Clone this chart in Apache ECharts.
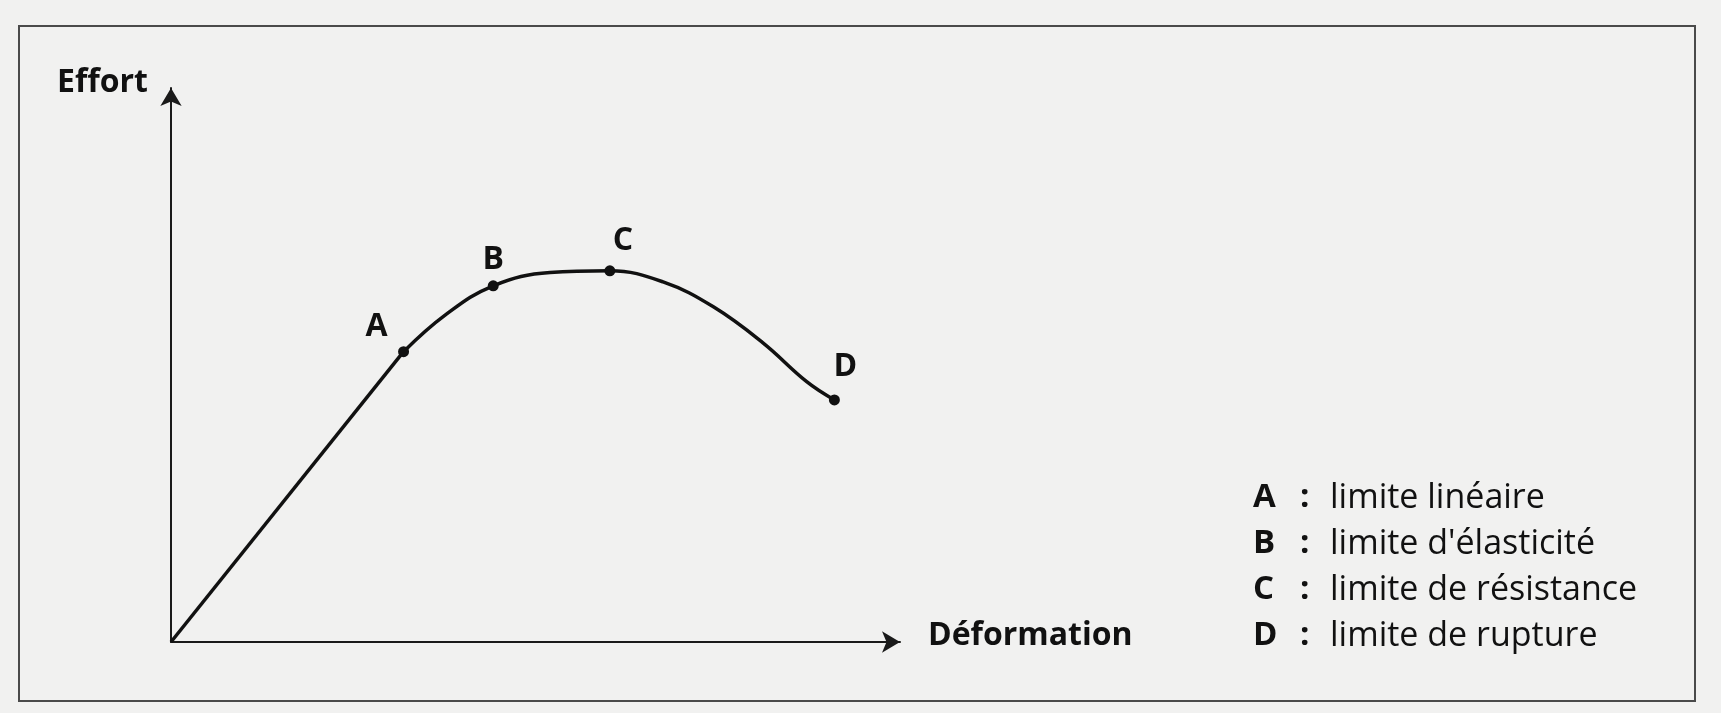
<!DOCTYPE html>
<html>
<head>
<meta charset="utf-8">
<script src="https://cdn.jsdelivr.net/npm/echarts@6/dist/echarts.min.js"></script>
<style>
    html, body { margin: 0; padding: 0; background: #f1f1f0; }
    #courbe { width: 1721px; height: 713px; }
</style>
</head>
<body>
<div id="courbe"></div>
<script>
    // partie linéaire : origine -> A
    const lineaire = [[0, 0], [31.9, 52.4]]
    // partie courbe : A -> B -> C -> D
    const courbe = [
        [31.9, 52.4], [37.6, 59.0], [44.2, 64.3], [52.0, 66.7],
        [60.2, 67.0], [67.5, 65.0], [74.4, 60.5], [81.2, 54.0],
        [87.2, 47.0], [91.0, 43.7]
    ]
    // points remarquables
    const pointNoms = ['A', 'B', 'C', 'D']
    const points = [[31.9, 52.4], [44.2, 64.3], [60.2, 67.0], [91.0, 43.7]]
    // légende
    const legendeLettres = ['A', 'B', 'C', 'D']
    const legendeTextes = ['limite linéaire', "limite d'élasticité", 'limite de résistance', 'limite de rupture']

    // décalage des lettres par rapport au point
    const decalages = { A: [-27, 3], B: [0, 2], C: [13, -2], D: [11, -6] }

    const chart = echarts.init(document.getElementById('courbe'))

    const legende = legendeLettres.map(function (l, i) {
        return '{k|' + l + '}{c|:}{t|' + legendeTextes[i] + '}'
    }).join('\n')

    const option = {
        backgroundColor: '#f1f1f0',
        animation: false,
        grid: {
            left: 171,
            right: 821,
            top: 88,
            bottom: 71
        },
        title: {
            left: 1248,
            top: 470,
            text: legende,
            textStyle: {
                lineHeight: 46,
                rich: {
                    k: { fontFamily: 'Open Sans', fontWeight: 'bold', fontSize: 33, color: '#111', width: 47, lineHeight: 46 },
                    c: { fontFamily: 'Open Sans', fontWeight: 'bold', fontSize: 33, color: '#111', width: 30, lineHeight: 46 },
                    t: { fontFamily: 'Open Sans', fontWeight: 'normal', fontSize: 34, color: '#111', lineHeight: 46 }
                }
            }
        },
        xAxis: {
            type: 'value',
            min: 0,
            max: 100,
            name: 'Déformation',
            nameLocation: 'end',
            nameGap: 28,
            nameTextStyle: {
                fontFamily: 'Open Sans',
                fontWeight: 'bold',
                fontSize: 32,
                color: '#111',
                align: 'left',
                verticalAlign: 'bottom',
                lineHeight: 12
            },
            axisLine: {
                show: true,
                symbol: ['none', 'arrow'],
                symbolSize: [16, 18],
                lineStyle: { color: '#1a1a1a', width: 2 }
            },
            axisTick: { show: false },
            axisLabel: { show: false },
            splitLine: { show: false }
        },
        yAxis: {
            type: 'value',
            min: 0,
            max: 100,
            name: 'Effort',
            nameLocation: 'end',
            nameGap: -11,
            nameTextStyle: {
                fontFamily: 'Open Sans',
                fontWeight: 'bold',
                fontSize: 32,
                color: '#111',
                align: 'right',
                padding: [0, 23, 0, 0]
            },
            axisLine: {
                show: true,
                symbol: ['none', 'arrow'],
                symbolSize: [16, 18],
                lineStyle: { color: '#1a1a1a', width: 2 }
            },
            axisTick: { show: false },
            axisLabel: { show: false },
            splitLine: { show: false }
        },
        series: [
            {
                type: 'line',
                data: lineaire,
                showSymbol: false,
                lineStyle: { color: '#111', width: 3.5 }
            },
            {
                type: 'line',
                data: courbe,
                smooth: 0.4,
                showSymbol: false,
                lineStyle: { color: '#111', width: 3.5 }
            },
            {
                type: 'scatter',
                data: points.map(function (p, i) {
                    return {
                        value: p,
                        name: pointNoms[i],
                        label: { offset: decalages[pointNoms[i]] }
                    }
                }),
                symbolSize: 11,
                itemStyle: { color: '#111', opacity: 1 },
                label: {
                    show: true,
                    position: 'top',
                    distance: 6,
                    formatter: '{b}',
                    fontFamily: 'Open Sans',
                    fontWeight: 'bold',
                    fontSize: 32,
                    color: '#111'
                },
                z: 5
            }
        ],
        graphic: [
            {
                // cadre de la figure
                type: 'rect',
                shape: { x: 19, y: 26, width: 1676, height: 675 },
                style: { fill: 'none', stroke: '#4a4a4a', lineWidth: 2 },
                silent: true
            }
        ]
    }

    chart.setOption(option)
    window.addEventListener('resize', function () {
        chart.resize()
    })
</script>
</body>
</html>
